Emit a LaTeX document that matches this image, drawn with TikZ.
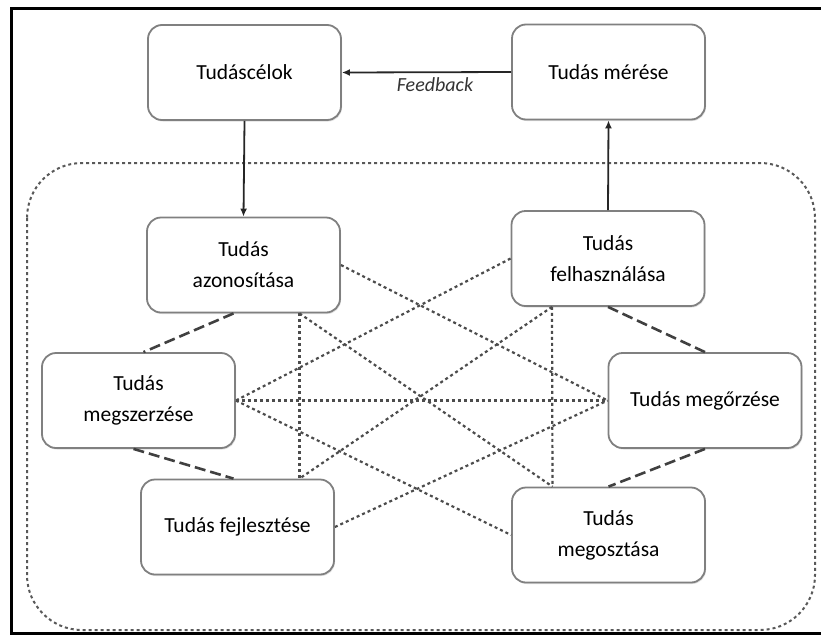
\documentclass[tikz,border=0pt]{standalone}
\usepackage{fontspec}
\setmainfont{Carlito}
\usepackage{tikz}
\usetikzlibrary{arrows.meta,shapes,shadows}
\tikzstyle{box}=[draw=black!50,line width=1.8pt,fill=white,rounded corners=14pt,
  minimum width=193pt,minimum height=95pt,align=center,text=black,
  font=\fontsize{21.5}{31}\selectfont,
  drop shadow={shadow xshift=1pt,shadow yshift=-1.5pt,fill=black!25}]
\tikzstyle{flow}=[draw=black!85,line width=1.8pt,-{Latex[length=8pt,width=7pt]}]
\tikzstyle{strong link}=[draw=black!75,line width=2.6pt,dash pattern=on 11pt off 5pt]
\tikzstyle{weak link}=[draw=black!70,line width=2.2pt,dash pattern=on 3pt off 3pt]
\tikzstyle{group}=[draw=black!65,line width=2pt,dash pattern=on 3pt off 3pt,rounded corners=55pt]

\begin{document}
\begin{tikzpicture}[x=1pt,y=-1pt]
    \useasboundingbox (0,0) rectangle (821,635);
    % Outer frame and the dotted group
    \draw[line width=3pt] (835,8) -- (11,8) -- (11,633.5) -- (835,633.5);
    \draw[group] (27,163) rectangle (815,630);

    % First we draw the boxes
    \foreach \pos/\name/\txt in {{(244.5,72.5)/celok/Tudáscélok},{(608.5,72)/meres/Tudás mérése},
        {(243.5,265)/azon/{Tudás\\azonosítása}},{(608,258.5)/felh/{Tudás\\felhasználása}},
        {(138.5,400.5)/megszer/{Tudás\\megszerzése}},{(705,400.5)/megorz/Tudás megőrzése},
        {(237.5,527)/fejl/Tudás fejlesztése},{(608.5,535)/megoszt/{Tudás\\megosztása}}}
        \node[box] (\name) at \pos {\txt};

    % Solid arrows with the feedback
    \path[flow] (meres.west) -- node[pos=0.45,below=1pt,font=\fontsize{20}{24}\selectfont\itshape,text=black!80] (fb) {Feedback} (celok.east);
    \path[flow] (celok.south) -- (azon.north);
    \path[flow] (felh.north) -- (meres.south);

    % Dashed links round the circle
    \path[strong link] ([xshift=-10pt]azon.south) -- ([xshift=5pt]megszer.north);
    \path[strong link] (felh.south) -- (megorz.north);
    \path[strong link] ([xshift=-5pt]megszer.south) -- ([xshift=-4pt]fejl.north);
    \path[strong link] (megorz.south) -- (megoszt.north);

    % Dotted links across
    \foreach \source/\dest in {azon.east/megorz.west, felh.west/megszer.east, megszer.east/megorz.west,
        megszer.east/megoszt.west, fejl.east/megorz.west}
        \path[weak link] (\source) -- (\dest);
    \path[weak link] ([xshift=56pt]azon.south) -- ([xshift=62pt]fejl.north);
    \path[weak link] ([xshift=56pt]azon.south) -- ([xshift=-56pt]megoszt.north);
    \path[weak link] ([xshift=-56pt]felh.south) -- ([xshift=-56pt]megoszt.north);
    \path[weak link] ([xshift=-56pt]felh.south) -- ([xshift=62pt]fejl.north);
\end{tikzpicture}
\end{document}
